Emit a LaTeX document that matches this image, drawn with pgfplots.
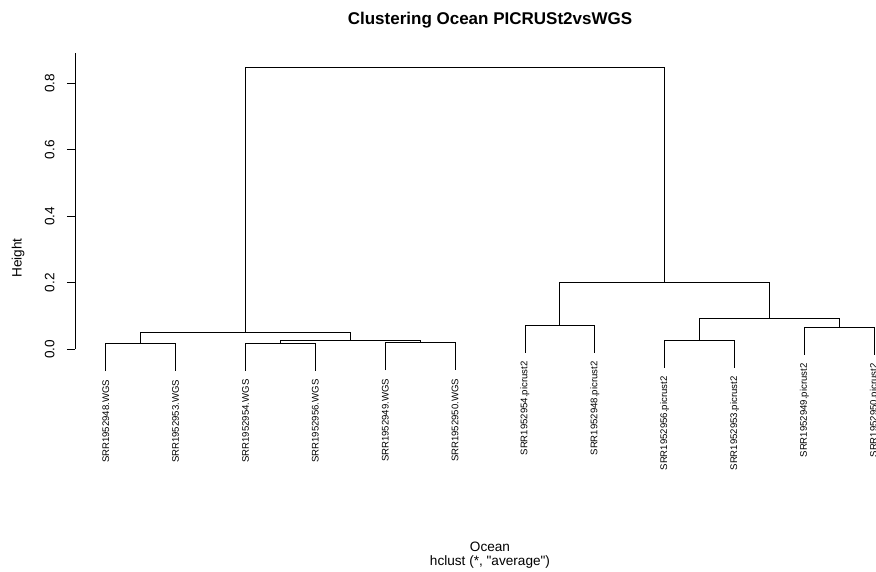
\documentclass[border=0pt]{standalone}
\usepackage{pgfplots}
\pgfplotsset{compat=1.18}
\usepackage{fontspec}
\setmainfont{Liberation Sans}
\newcommand\basefont{\fontsize{13.6}{16}\selectfont}
\newcommand\leaffont{\fontsize{9.6}{11}\selectfont}
\begin{document}
\begin{tikzpicture}
\useasboundingbox (0,0) rectangle (876pt,572pt);
% titles and axis labels
\node[font=\bfseries\fontsize{17}{20}\selectfont] at (490pt,552pt) {Clustering Ocean PICRUSt2vsWGS};
\node[font=\basefont, rotate=90] at (18pt,314pt) {Height};
\node[font=\basefont] at (490pt,25pt) {Ocean};
\node[font=\basefont] at (490pt,10pt) {hclust (*, \textquotedbl average\textquotedbl)};
\begin{axis}[
  scale only axis,
  anchor=south west, at={(75pt,222.7pt)},
  x=69.87pt, y=332.5pt,
  xmin=0.56, xmax=12.44, ymin=0, ymax=0.892,
  clip=false,
  axis x line=none,
  axis y line*=left,
  y axis line style={-, black, line width=0.8pt},
  ytick={0,0.2,0.4,0.6,0.8},
  yticklabels={0.0,0.2,0.4,0.6,0.8},
  tick align=outside,
  major tick length=8pt,
  ytick style={black, line width=0.8pt},
  yticklabel style={rotate=90, anchor=south, font=\basefont},
  yticklabel shift=9pt,
  /pgf/number format/assume math mode=true,
  branch/.style={black, solid, no markers, line width=0.9pt},
]
% WGS cluster
\addplot[branch] coordinates {(1,-0.066) (1,0.017) (2,0.017) (2,-0.066)};
\addplot[branch] coordinates {(3,-0.065) (3,0.018) (4,0.018) (4,-0.065)};
\addplot[branch] coordinates {(5,-0.063) (5,0.020) (6,0.020) (6,-0.063)};
\addplot[branch] coordinates {(3.5,0.018) (3.5,0.026) (5.5,0.026) (5.5,0.020)};
\addplot[branch] coordinates {(1.5,0.017) (1.5,0.052) (4.5,0.052) (4.5,0.026)};
% PICRUSt2 cluster
\addplot[branch] coordinates {(7,-0.011) (7,0.072) (8,0.072) (8,-0.011)};
\addplot[branch] coordinates {(9,-0.056) (9,0.027) (10,0.027) (10,-0.056)};
\addplot[branch] coordinates {(11,-0.017) (11,0.066) (12,0.066) (12,-0.017)};
\addplot[branch] coordinates {(9.5,0.027) (9.5,0.092) (11.5,0.092) (11.5,0.066)};
\addplot[branch] coordinates {(7.5,0.072) (7.5,0.202) (10.5,0.202) (10.5,0.092)};
% root
\addplot[branch] coordinates {(3,0.052) (3,0.847) (9,0.847) (9,0.202)};
% leaf labels
\begin{scope}[every node/.style={rotate=90, anchor=east, font=\leaffont, inner sep=0pt}]
\node at (axis cs:1,-0.091) {SRR1952948.WGS};
\node at (axis cs:2,-0.091) {SRR1952953.WGS};
\node at (axis cs:3,-0.090) {SRR1952954.WGS};
\node at (axis cs:4,-0.090) {SRR1952956.WGS};
\node at (axis cs:5,-0.088) {SRR1952949.WGS};
\node at (axis cs:6,-0.088) {SRR1952950.WGS};
\node at (axis cs:7,-0.036) {SRR1952954.picrust2};
\node at (axis cs:8,-0.036) {SRR1952948.picrust2};
\node at (axis cs:9,-0.081) {SRR1952956.picrust2};
\node at (axis cs:10,-0.081) {SRR1952953.picrust2};
\node at (axis cs:11,-0.042) {SRR1952949.picrust2};
\node at (axis cs:12,-0.042) {SRR1952950.picrust2};
\end{scope}
\end{axis}
\end{tikzpicture}
\end{document}
